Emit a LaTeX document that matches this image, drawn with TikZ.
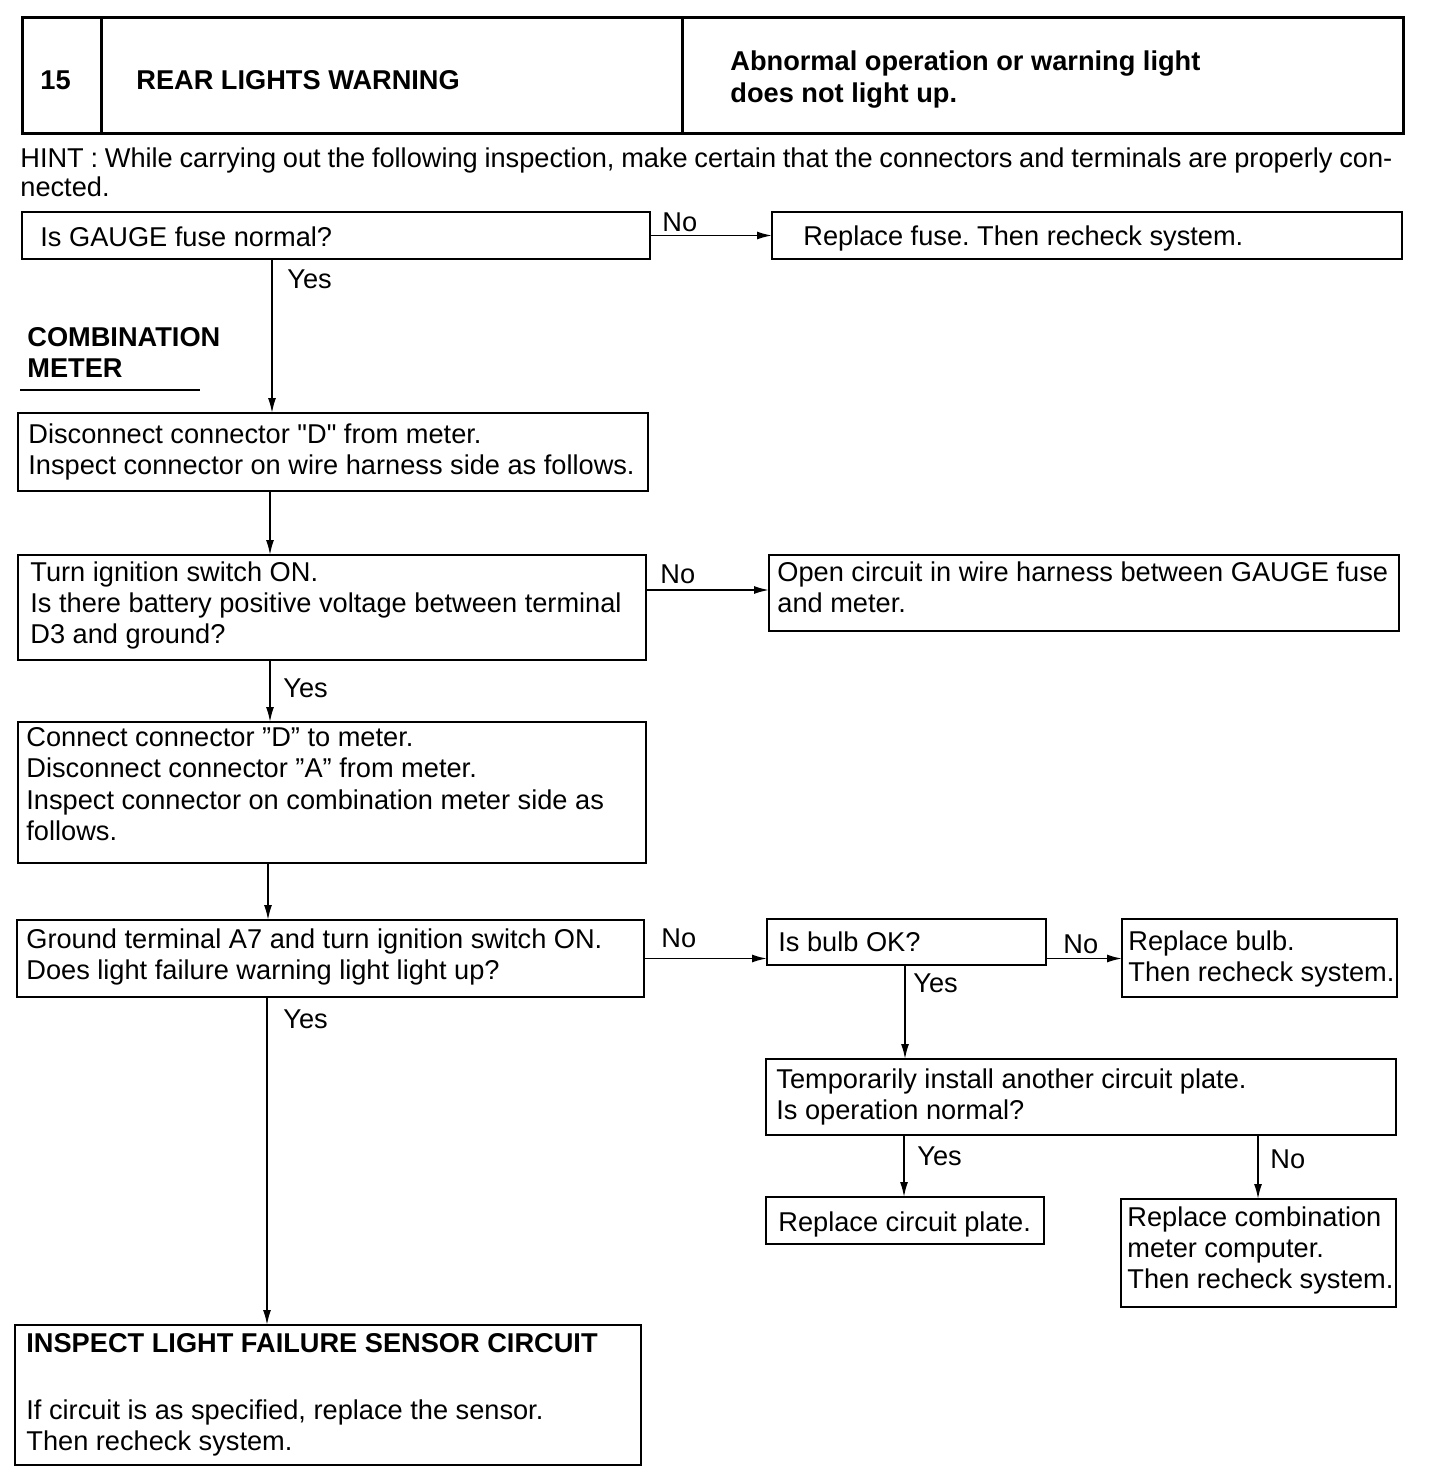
\documentclass[tikz,border=0pt]{standalone}
\usepackage{fontspec}
\setmainfont{Liberation Sans}
\usetikzlibrary{arrows.meta}
\frenchspacing
\begin{document}
\begin{tikzpicture}[x=0.5pt,y=-0.5pt,
  box/.style 2 args={draw, line width=1.25pt, rectangle, inner sep=0pt, outer sep=0pt,
     anchor=north west, minimum width=#1*0.5pt, minimum height=#2*0.5pt},
  txt/.style={inner sep=0pt, anchor=north west, align=left,
     font=\fontsize{13.6}{15.7}\selectfont},
  btxt/.style={txt, font=\fontsize{13.6}{15.7}\selectfont\bfseries},
  lbl/.style={inner sep=0pt, anchor=base west, font=\fontsize{13.6}{15.7}\selectfont},
  arr/.style={line width=0.85pt, -{Latex[length=7.5pt,width=4pt]}}]
\useasboundingbox (0,0) rectangle (1440,1482);
\fill[white] (0,0) rectangle (1440,1482);

% header
\node[box={1381}{116}, line width=1.5pt] (hdr) at (22,18) {};
\coordinate (dv1) at (101,0);
\coordinate (dv2) at (682,0);
\draw[line width=1.5pt] (hdr.north -| dv1) -- (hdr.south -| dv1);
\draw[line width=1.5pt] (hdr.north -| dv2) -- (hdr.south -| dv2);
\node[lbl, font=\fontsize{13.6}{15.7}\selectfont\bfseries] (num) at (40,90) {15};
\node[lbl, font=\fontsize{13.6}{15.7}\selectfont\bfseries] (ttl) at (136,90) {REAR LIGHTS WARNING};
\node[btxt, font=\fontsize{13.6}{16.4}\selectfont\bfseries] (sym) at (730,50) {Abnormal operation or warning light\\does not light up.};

% hint
\node[txt, text width=686pt, align=justify, font=\fontsize{13.6}{14.5}\selectfont] (hint) at (20,147)
  {\noindent HINT : While carrying out the following inspection, make certain that the connectors and terminals are properly con-\linebreak nected.};

% column coordinates
\coordinate (ax1) at (272,0);
\coordinate (ax2) at (270,0);
\coordinate (ax3) at (268,0);
\coordinate (ax4) at (267,0);
\coordinate (bx1) at (905,0);
\coordinate (bx2) at (904,0);
\coordinate (bx3) at (1258,0);
\coordinate (ny2) at (0,590);

% boxes
\node[box={628}{47}] (q1) at (22,212) {};
\node[txt] (q1t) at (40,226) {Is GAUGE fuse normal?};
\node[box={630}{47}] (r1) at (772,212) {};
\node[txt] (r1t) at (803,225) {Replace fuse. Then recheck system.};

\node[btxt] (cm) at (27,327) {COMBINATION\\METER};
\coordinate (ul1) at (20,390);
\coordinate (ul2) at (200,390);
\draw[line width=1.1pt] (ul1) -- (ul2);

\node[box={630}{78}] (d1) at (18,413) {};
\node[txt] (d1t) at (28,423) {Disconnect connector \textquotedbl D\textquotedbl{} from meter.\\Inspect connector on wire harness side as follows.};

\node[box={628}{105}] (q2) at (18,555) {};
\node[txt] (q2t) at (30,561) {Turn ignition switch ON.\\Is there battery positive voltage between terminal\\D3 and ground?};
\node[box={630}{76}] (o1) at (769,555) {};
\node[txt] (o1t) at (777,561) {Open circuit in wire harness between GAUGE fuse\\and meter.};

\node[box={628}{141}] (c1) at (18,722) {};
\node[txt] (c1t) at (26,727) {Connect connector ”D” to meter.\\Disconnect connector ”A” from meter.\\Inspect connector on combination meter side as\\follows.};

\node[box={627}{77}] (q3) at (17,920) {};
\node[txt] (q3t) at (26,928) {Ground terminal A7 and turn ignition switch ON.\\Does light failure warning light light up?};

\node[box={279}{46}] (bb) at (767,919) {};
\node[txt] (bbt) at (778,931) {Is bulb OK?};
\node[box={275}{78}] (rb) at (1122,919) {};
\node[txt] (rbt) at (1128,930) {Replace bulb.\\Then recheck system.};

\node[box={630}{76}] (tp) at (766,1059) {};
\node[txt] (tpt) at (776,1068) {Temporarily install another circuit plate.\\Is operation normal?};

\node[box={278}{47}] (rc) at (766,1197) {};
\node[txt] (rct) at (778,1211) {Replace circuit plate.};
\node[box={275}{108}] (rm) at (1121,1199) {};
\node[txt] (rmt) at (1127,1206) {Replace combination\\meter computer.\\Then recheck system.};

\node[box={626}{140}] (ins) at (15,1325) {};
\node[btxt] (inst) at (26,1333) {INSPECT LIGHT FAILURE SENSOR CIRCUIT};
\node[txt] (insb) at (26,1399) {If circuit is as specified, replace the sensor.\\Then recheck system.};

% connectors
\draw[arr] (q1.east) -- (r1.west);
\node[lbl] (n1) at (662,232) {No};
\draw[arr] (q1.south -| ax1) -- (d1.north -| ax1);
\node[lbl] (y1) at (287,288) {Yes};

\draw[arr] (d1.south -| ax2) -- (q2.north -| ax2);
\draw[arr] (q2.east |- ny2) -- (o1.west |- ny2);
\node[lbl] (n2) at (660,583) {No};
\draw[arr] (q2.south -| ax2) -- (c1.north -| ax2);
\node[lbl] (y2) at (283,697) {Yes};

\draw[arr] (c1.south -| ax3) -- (q3.north -| ax3);
\draw[arr] (q3.east) -- (q3.east -| bb.west);
\node[lbl] (n3) at (661,947) {No};
\draw[arr] (q3.south -| ax4) -- (ins.north -| ax4);
\node[lbl] (y3) at (283,1028) {Yes};

\draw[arr] (q3.east -| bb.east) -- (q3.east -| rb.west);
\node[lbl] (n4) at (1063,953) {No};
\draw[arr] (bb.south -| bx1) -- (tp.north -| bx1);
\node[lbl] (y4) at (913,992) {Yes};

\draw[arr] (tp.south -| bx2) -- (rc.north -| bx2);
\node[lbl] (y5) at (917,1165) {Yes};
\draw[arr] (tp.south -| bx3) -- (rm.north -| bx3);
\node[lbl] (n5) at (1270,1168) {No};
\end{tikzpicture}
\end{document}
